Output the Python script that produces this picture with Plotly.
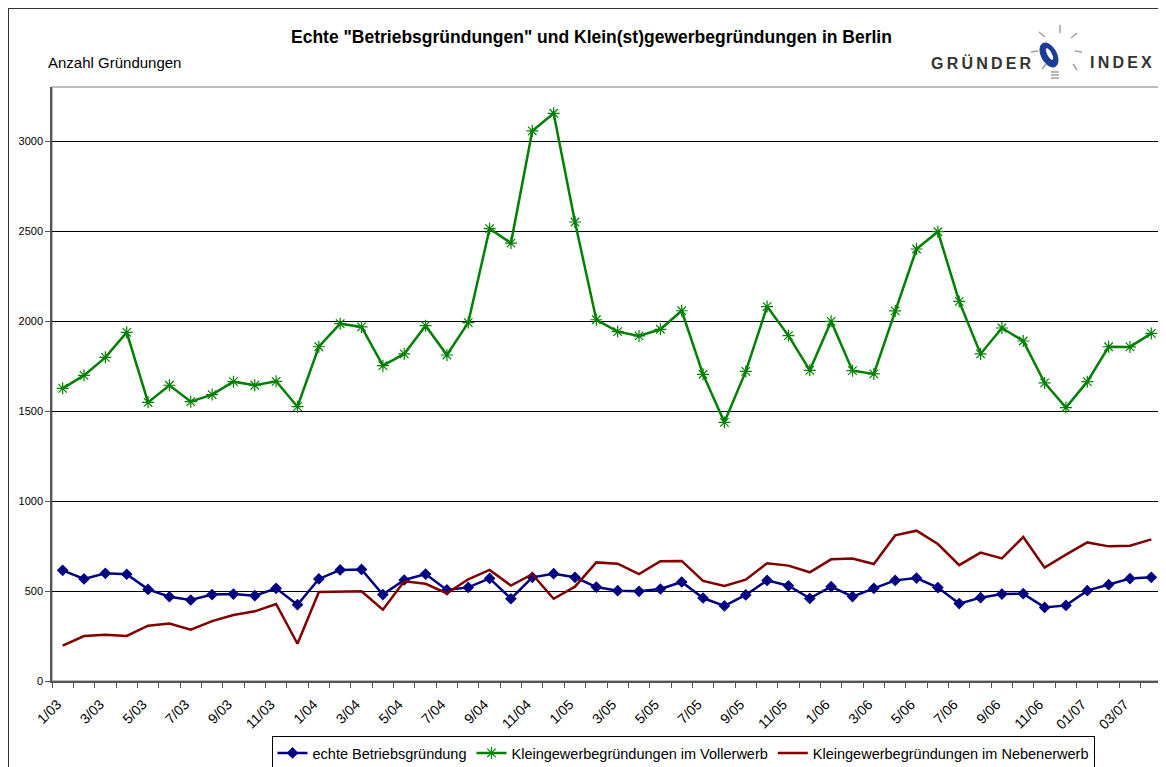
import numpy as np
import plotly.graph_objects as go

months = [f"{m}/{y:02d}" for y in range(3, 8) for m in range(1, 13)][:52]
tick_labels = ["1/03", "3/03", "5/03", "7/03", "9/03", "11/03",
               "1/04", "3/04", "5/04", "7/04", "9/04", "11/04",
               "1/05", "3/05", "5/05", "7/05", "9/05", "11/05",
               "1/06", "3/06", "5/06", "7/06", "9/06", "11/06",
               "01/07", "03/07"]

echte = [615, 567, 598, 593, 509, 468, 450, 480, 483, 474, 515, 424,
         567, 617, 620, 480, 561, 594, 506, 520, 570, 457, 576, 596,
         576, 522, 502, 498, 511, 550, 461, 417, 478, 559, 529, 459,
         524, 469, 515, 559, 572, 519, 430, 463, 483, 485, 409, 420,
         502, 535, 569, 576]
voll = [1626, 1698, 1798, 1937, 1548, 1643, 1552, 1591, 1663, 1643, 1665, 1524,
        1857, 1985, 1967, 1752, 1817, 1974, 1811, 1991, 2513, 2433, 3056, 3154,
        2550, 2007, 1941, 1917, 1954, 2057, 1704, 1437, 1720, 2080, 1919, 1726,
        1998, 1724, 1706, 2056, 2400, 2496, 2109, 1817, 1961, 1889, 1656, 1519,
        1663, 1857, 1856, 1931]
neben = [196, 250, 257, 250, 307, 319, 285, 333, 367, 387, 428, 207,
         494, 496, 498, 396, 554, 540, 487, 565, 617, 530, 593, 457,
         524, 659, 652, 594, 665, 667, 556, 528, 563, 654, 641, 604,
         676, 681, 650, 809, 835, 761, 644, 713, 681, 800, 630, 702,
         770, 748, 752, 787]

x = list(range(len(months)))
label_pos = [i - 0.25 for i in range(0, len(months), 2)]

OFF = 8  # page body margin
W, H = 1166 - OFF, 767 - OFF
# plot area in page pixels
L, R, T, B = 52, 1162, 87, 681


def px(xp):
    return (xp - L) / (R - L)


def py(yp):
    return (B - yp) / (B - T)


fig = go.Figure()
fig.add_trace(go.Scatter(x=x, y=echte, name="echte Betriebsgründung", mode="lines+markers",
                         line=dict(color="#000080", width=2.5),
                         marker=dict(symbol="diamond", size=9, color="#000080")))
fig.add_trace(go.Scatter(x=x, y=voll, name="Kleingewerbegründungen im Vollerwerb", mode="lines+markers",
                         line=dict(color="#008000", width=2.5),
                         marker=dict(symbol="asterisk-open", size=10, color="#008000",
                                     line=dict(color="#008000", width=1.2))))
fig.add_trace(go.Scatter(x=x, y=neben, name="Kleingewerbegründungen im Nebenerwerb", mode="lines",
                         line=dict(color="#800000", width=2.5)))

shapes = []
# outer frame
shapes.append(dict(type="rect", xref="paper", yref="paper", x0=px(8), x1=px(1190), y0=py(8), y1=py(800),
                   line=dict(color="#333333", width=2), layer="below"))
# plot border (top/right gray)
shapes.append(dict(type="rect", xref="paper", yref="paper", x0=0, x1=1, y0=0, y1=1,
                   line=dict(color="#a6a6a6", width=1.5), layer="below"))

# logo bulb
cx, cy = 1049, 55
t = np.linspace(0, 2 * np.pi, 48)
ang = np.deg2rad(-28)


def ellipse_path(a, b, dx=0.0, dy=0.0):
    xs = a * np.cos(t)
    ys = b * np.sin(t)
    xr = cx + dx + xs * np.cos(ang) - ys * np.sin(ang)
    yr = cy + dy + xs * np.sin(ang) + ys * np.cos(ang)
    pts = [f"{px(u):.5f},{py(v):.5f}" for u, v in zip(xr, yr)]
    return "M" + " L".join(pts) + " Z"


shapes.append(dict(type="path", xref="paper", yref="paper", path=ellipse_path(7.5, 13),
                   fillcolor="#1c3c96", line=dict(color="#1c3c96", width=1)))
shapes.append(dict(type="path", xref="paper", yref="paper", path=ellipse_path(2.2, 6.5, 0.5, -1),
                   fillcolor="white", line=dict(color="white", width=0)))
rays = [((1060, 25), (1060, 33)), ((1039, 32), (1045, 37)), ((1077, 33), (1071, 38)),
        ((1031, 52), (1038, 51)), ((1075, 51), (1082, 52)), ((1042, 69), (1046, 64)),
        ((1073, 64), (1077, 70))]
for (a1, b1), (a2, b2) in rays:
    shapes.append(dict(type="line", xref="paper", yref="paper", x0=px(a1), y0=py(b1), x1=px(a2), y1=py(b2),
                       line=dict(color="#a0a0a0", width=1.5)))
for yy in (72, 75, 78):
    shapes.append(dict(type="line", xref="paper", yref="paper", x0=px(1051), y0=py(yy), x1=px(1059), y1=py(yy),
                       line=dict(color="#a0a0a0", width=1.5)))

ts = "\u2009"
annotations = [
    dict(text='<b>Echte "Betriebsgründungen" und Klein(st)gewerbegründungen in Berlin</b>',
         xref="paper", yref="paper",
         x=px(591), y=py(37), showarrow=False, font=dict(family="Arial", size=17.5, color="black"),
         xanchor="center", yanchor="middle"),
    dict(text="Anzahl Gründungen", xref="paper", yref="paper", x=px(46), y=py(63), showarrow=False,
         font=dict(family="Arial", size=15, color="black"), xanchor="left", yanchor="middle"),
    dict(text="<b>" + ts.join("GRÜNDER") + "</b>", xref="paper", yref="paper", x=px(1034), y=py(63),
         showarrow=False, font=dict(family="Arial", size=16, color="#333333"), xanchor="right",
         yanchor="middle"),
    dict(text="<b>" + ts.join("INDEX") + "</b>", xref="paper", yref="paper", x=px(1088), y=py(63),
         showarrow=False, font=dict(family="Arial", size=16, color="#333333"), xanchor="left",
         yanchor="middle"),
]

fig.update_layout(
    width=W, height=H,
    margin=dict(l=L - OFF, r=W - (R - OFF), t=T - OFF, b=H - (B - OFF), autoexpand=False),
    paper_bgcolor="white", plot_bgcolor="white",
    font=dict(family="Arial", color="black"),
    showlegend=True,
    legend=dict(orientation="h", x=px(683), y=py(753), xanchor="center", yanchor="middle",
                bordercolor="black", borderwidth=1, bgcolor="white",
                font=dict(family="Arial", size=14.5, color="black"), itemwidth=30),
    shapes=shapes, annotations=annotations,
)
fig.update_xaxes(range=[-0.5, len(months) - 0.5], tickvals=label_pos, ticktext=tick_labels,
                 tickangle=-45, ticks="", showgrid=False, zeroline=False,
                 showline=True, linecolor="#555555", linewidth=1.5,
                 ticklabelstandoff=8,
                 tickfont=dict(family="Arial", size=14, color="black"),
                 minor=dict(tickvals=[i - 0.5 for i in range(len(months) + 1)], ticks="outside",
                            ticklen=5, tickcolor="#555555", tickwidth=1, showgrid=False))
fig.update_yaxes(range=[0, 3300], tickvals=[0, 500, 1000, 1500, 2000, 2500, 3000],
                 showgrid=True, gridcolor="black", gridwidth=1, zeroline=False,
                 showline=True, linecolor="#555555", linewidth=1.5,
                 ticks="outside", ticklen=5, tickcolor="#555555",
                 tickfont=dict(family="Arial", size=11, color="black"))

fig.write_html("out.html")
